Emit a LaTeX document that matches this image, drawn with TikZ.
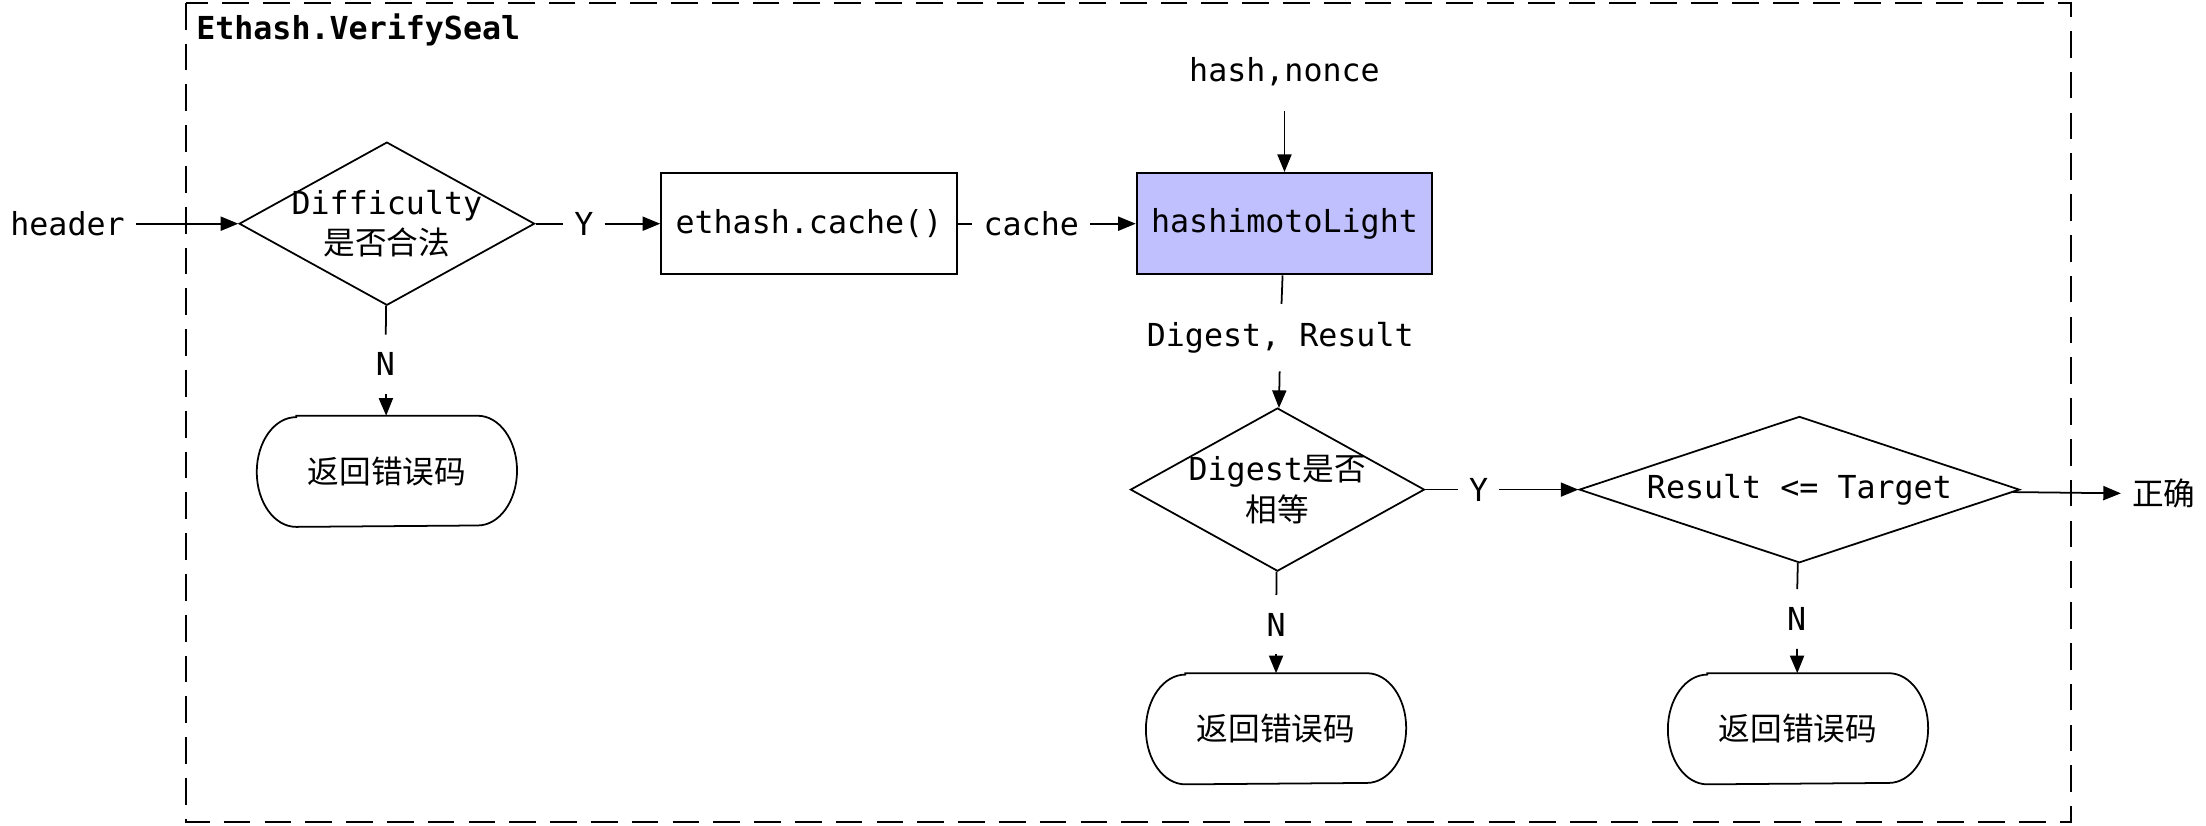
\documentclass[tikz,border=0pt]{standalone}
\usepackage{fontspec}
\setmainfont{DejaVu Sans Mono}
\newfontfamily\cjk{Noto Sans CJK SC}
\usepackage{tikz}
\usetikzlibrary{shapes.geometric, arrows.meta, positioning}
\definecolor{hashfill}{RGB}{192,192,255}
\tikzset{
    frame/.style={draw=black, line width=0.6pt, dash pattern=on 7.6pt off 4pt},
    process/.style={rectangle, draw=black, line width=0.6pt, fill=white, minimum width=84pt, minimum height=28.8pt, inner sep=0pt},
    decision/.style={diamond, draw=black, line width=0.5pt, inner sep=0pt},
    dtext/.style={align=center, inner sep=0pt},
    term/.style={rectangle, minimum width=73.6pt, minimum height=31.2pt, inner sep=0pt},
    lbl/.style={inner xsep=3pt, inner ysep=5pt},
    arrow/.style={-{Triangle[length=5pt, width=4pt]}, line width=0.5pt},
    line/.style={line width=0.5pt}
}
\begin{document}
\fontsize{9}{11.6}\selectfont
\begin{tikzpicture}[x=0.4pt, y=-0.4pt]
        \useasboundingbox (0,0) rectangle (1568,587);

        % Frame
        \draw[frame] (132,2) rectangle (1472,584);
        \node[anchor=west, inner sep=0pt, font=\fontsize{9}{11.6}\selectfont\bfseries] (title) at (139,21) {Ethash.VerifySeal};

        % Difficulty check
        \node (header) at (48,159) {header};
        \node[decision, minimum width=84pt, minimum height=46.4pt] (d1) at (275,159) {};
        \node[dtext] (d1t) at (d1) {Difficulty\\{\cjk 是否合法}};
        \node[term] (t1) at (275,335) {{\cjk 返回错误码}};
        \node[lbl] (y1) at (415,159) {Y};
        \node[lbl] (n1) at (274,259) {N};

        % Cache and hashimoto
        \node[process] (cachefn) at (575,159) {ethash.cache()};
        \node[lbl] (cache) at (733,159) {cache};
        \node[process, fill=hashfill] (light) at (913,159) {hashimotoLight};
        \node (hn) at (913,51) {hash,nonce};
        \node[lbl] (dr) at (910,240) {Digest, Result};

        % Digest check
        \node[decision, minimum width=83.6pt, minimum height=46.4pt] (d2) at (908,348) {};
        \node[dtext] (d2t) at (d2) {Digest{\cjk 是否}\\{\cjk 相等}};
        \node[lbl] (y2) at (1051,348) {Y};
        \node[lbl] (n2) at (907,444) {N};
        \node[term] (t2) at (907,518) {{\cjk 返回错误码}};

        % Target check
        \node[decision, minimum width=125.2pt, minimum height=41.6pt] (d3) at (1279,348) {};
        \node[dtext] (d3t) at (d3) {Result <= Target};
        \node[lbl] (n3) at (1277,440) {N};
        \node[term] (t3) at (1278,518) {{\cjk 返回错误码}};
        \node (ok) at (1538,351) {{\cjk 正确}};

        % Terminal outlines
        \foreach \t in {t1, t2, t3} {
            \draw[line] ([xshift=11.2pt]\t.north west) -- ([xshift=-11.2pt]\t.north east)
                arc[start angle=90, end angle=-90, x radius=11.2pt, y radius=15.6pt]
                -- ([xshift=11.2pt]\t.south west)
                arc[start angle=270, end angle=90, x radius=11.2pt, y radius=15.6pt] -- cycle;
        }

        % Connectors
        \draw[arrow] (header) -- (d1);
        \draw[line] (d1) -- (y1);
        \draw[arrow] (y1) -- (cachefn);
        \draw[line] (d1) -- (n1);
        \draw[arrow] (n1) -- (t1);
        \draw[line] (cachefn) -- (cache);
        \draw[arrow] (cache) -- (light);
        \draw[arrow, shorten <=4pt] (hn) -- (light);
        \draw[line] (light) -- (dr);
        \draw[arrow] (dr) -- (d2);
        \draw[line] (d2) -- (y2);
        \draw[arrow] (y2) -- (d3);
        \draw[line] (d2) -- (n2);
        \draw[arrow] (n2) -- (t2);
        \draw[line] (d3) -- (n3);
        \draw[arrow] (n3) -- (t3);
        \draw[arrow] (d3) -- (ok);
    \end{tikzpicture}
\end{document}
